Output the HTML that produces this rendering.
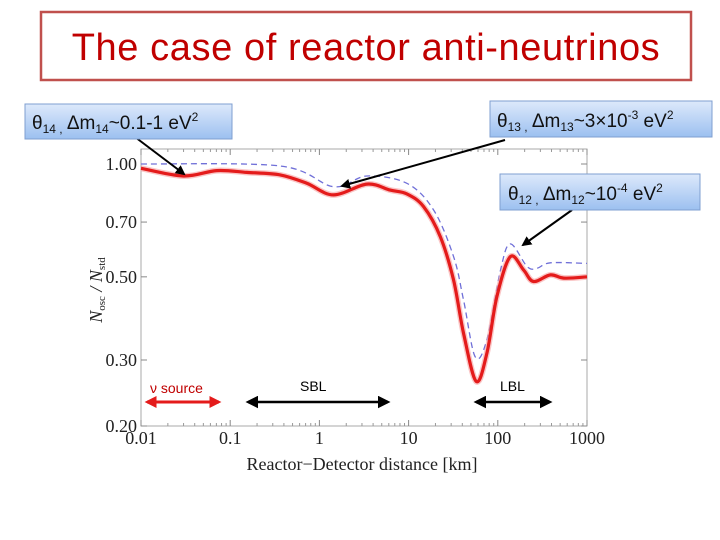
<!DOCTYPE html>
<html><head><meta charset="utf-8"><style>
body{margin:0;background:#fff}
svg{display:block;font-family:"Liberation Sans",sans-serif}
</style></head><body>
<svg width="720" height="540" viewBox="0 0 720 540">
<defs>
<linearGradient id="bg" x1="0" y1="0" x2="0" y2="1"><stop offset="0" stop-color="#dde9fb"/><stop offset="1" stop-color="#9cc0f0"/></linearGradient>
<marker id="ah" viewBox="0 0 10 10" refX="8" refY="5" markerWidth="5" markerHeight="5" orient="auto-start-reverse"><path d="M0,0L10,5L0,10z" fill="#000"/></marker>
<marker id="ahr" viewBox="0 0 10 10" refX="8" refY="5" markerWidth="4" markerHeight="4" orient="auto-start-reverse"><path d="M0,0L10,5L0,10z" fill="#e41b1b"/></marker>
</defs>
<rect x="41" y="12" width="650" height="68" fill="#fff" stroke="#c0504d" stroke-width="2.5"/>
<text x="366" y="60" text-anchor="middle" font-size="38" letter-spacing="0.6" fill="#c00000" font-family="Liberation Sans, sans-serif">The case of reactor anti-neutrinos</text>

<g id="plot">
<rect x="141" y="149" width="446" height="277" fill="#fff" stroke="#aaa" stroke-width="1"/>
<g id="ticks"></g>
<path id="dash" fill="none" stroke="#7070d8" stroke-width="1.3" stroke-dasharray="6,4"/>
<path id="solidglow" fill="none" stroke="#f7a0a0" stroke-width="6" opacity="0.6"/>
<path id="solid" fill="none" stroke="#e41b1b" stroke-width="3.2"/>
</g>
<text transform="translate(102,290) rotate(-90)" text-anchor="middle" font-size="18" font-family="Liberation Serif, serif" font-style="italic" fill="#222">N<tspan font-size="11" dy="3" font-style="normal">osc</tspan><tspan dy="-3"> / N</tspan><tspan font-size="11" dy="3" font-style="normal">std</tspan></text>
<text x="362" y="470" text-anchor="middle" font-size="18" font-family="Liberation Serif, serif" fill="#222">Reactor−Detector distance [km]</text>

<line x1="147" y1="402" x2="219" y2="402" stroke="#e41b1b" stroke-width="3" marker-start="url(#ahr)" marker-end="url(#ahr)"/>
<text x="150" y="393" font-size="14" fill="#c00000">ν source</text>
<line x1="248" y1="402" x2="388" y2="402" stroke="#000" stroke-width="2.5" marker-start="url(#ah)" marker-end="url(#ah)"/>
<text x="300" y="391" font-size="14">SBL</text>
<line x1="476" y1="402" x2="550" y2="402" stroke="#000" stroke-width="2.5" marker-start="url(#ah)" marker-end="url(#ah)"/>
<text x="500" y="391" font-size="14">LBL</text>

<line x1="135" y1="137" x2="184" y2="174" stroke="#000" stroke-width="2" marker-end="url(#ah)"/>
<line x1="505" y1="140" x2="342" y2="186" stroke="#000" stroke-width="2" marker-end="url(#ah)"/>
<line x1="572" y1="210" x2="523" y2="245" stroke="#000" stroke-width="2" marker-end="url(#ah)"/>

<g>
<rect x="25" y="104" width="207" height="35" fill="url(#bg)" stroke="#7f9fd0"/>
<text x="32" y="129" font-size="19" fill="#111">θ<tspan font-size="12" dy="4">14 ,</tspan><tspan dy="-4"> Δm</tspan><tspan font-size="12" dy="4">14</tspan><tspan dy="-4">~0.1-1 eV</tspan><tspan font-size="12" dy="-8">2</tspan></text>
</g>
<g>
<rect x="490" y="101" width="222" height="36" fill="url(#bg)" stroke="#7f9fd0"/>
<text x="497" y="127" font-size="19" fill="#111">θ<tspan font-size="12" dy="4">13 ,</tspan><tspan dy="-4"> Δm</tspan><tspan font-size="12" dy="4">13</tspan><tspan dy="-4">~3×10</tspan><tspan font-size="12" dy="-8">-3</tspan><tspan dy="8"> eV</tspan><tspan font-size="12" dy="-8">2</tspan></text>
</g>
<g>
<rect x="500" y="174" width="200" height="36" fill="url(#bg)" stroke="#7f9fd0"/>
<text x="508" y="200" font-size="19" fill="#111">θ<tspan font-size="12" dy="4">12 ,</tspan><tspan dy="-4"> Δm</tspan><tspan font-size="12" dy="4">12</tspan><tspan dy="-4">~10</tspan><tspan font-size="12" dy="-8">-4</tspan><tspan dy="8"> eV</tspan><tspan font-size="12" dy="-8">2</tspan></text>
</g>
</svg>
<script>
const solidLogX=[-2,-1.525,-1.151,-0.815,-0.44,-0.141,0.158,0.532,0.794,0.981,1.167,1.355,1.504,1.616,1.758,1.878,1.99,2.14,2.29,2.40,2.59,2.74,3.0];
const solidY=[0.974,0.929,0.96,0.95,0.935,0.888,0.827,0.884,0.852,0.832,0.77,0.64,0.49,0.354,0.263,0.313,0.443,0.566,0.521,0.486,0.506,0.496,0.50];
const dashLogX=[-2,-0.44,0.158,0.532,0.981,1.28,1.504,1.616,1.747,1.878,2.03,2.14,2.33,2.44,2.59,3.0];
const dashY=[1.0,0.988,0.87,0.929,0.888,0.754,0.566,0.434,0.306,0.34,0.521,0.612,0.532,0.527,0.545,0.543];
const xTickVals=[0.01,0.1,1,10,100,1000];
const xTickLabels=["0.01","0.1","1","10","100","1000"];
const yTickVals=[1.0,0.7,0.5,0.3,0.2];
const yTickLabels=["1.00","0.70","0.50","0.30","0.20"];
const X0=141,X1=587,Y0=426,Y1=164;
function xs(lx){return X0+(lx+2)/5*(X1-X0);}
function ysc(v){return Y1+(0-Math.log10(v))*(Y0-Y1)/Math.log10(5);}
function pathFrom(lx,vy){
  const p=lx.map((l,i)=>[xs(l),ysc(vy[i])]);
  let d="M"+p[0][0].toFixed(1)+","+p[0][1].toFixed(1);
  for(let i=0;i<p.length-1;i++){
    const a=p[Math.max(i-1,0)],b=p[i],c=p[i+1],e=p[Math.min(i+2,p.length-1)];
    const c1=[b[0]+(c[0]-a[0])/6,b[1]+(c[1]-a[1])/6],c2=[c[0]-(e[0]-b[0])/6,c[1]-(e[1]-b[1])/6];
    d+=`C${c1[0].toFixed(1)},${c1[1].toFixed(1)} ${c2[0].toFixed(1)},${c2[1].toFixed(1)} ${c[0].toFixed(1)},${c[1].toFixed(1)}`;
  }
  return d;
}
document.getElementById('solid').setAttribute('d',pathFrom(solidLogX,solidY));
document.getElementById('solidglow').setAttribute('d',pathFrom(solidLogX,solidY));
document.getElementById('dash').setAttribute('d',pathFrom(dashLogX,dashY));
const NS="http://www.w3.org/2000/svg",g=document.getElementById('ticks');
function mk(t,a){const e=document.createElementNS(NS,t);for(const k in a)e.setAttribute(k,a[k]);g.appendChild(e);return e;}
xTickVals.forEach((v,i)=>{
  const x=xs(Math.log10(v));
  mk('line',{x1:x,y1:Y0,x2:x,y2:Y0-6,stroke:'#888'});mk('line',{x1:x,y1:149,x2:x,y2:155,stroke:'#888'});
  const t=mk('text',{x:x,y:444,'text-anchor':'middle','font-size':'18','font-family':'Liberation Serif, serif',fill:'#222'});
  t.textContent=xTickLabels[i];
  
  
  if(i<xTickVals.length-1)for(let k=2;k<10;k++){const xm=xs(Math.log10(v*k));mk('line',{x1:xm,y1:Y0,x2:xm,y2:Y0-3,stroke:'#999'});mk('line',{x1:xm,y1:149,x2:xm,y2:152,stroke:'#999'});}
});
yTickVals.forEach((v,i)=>{
  const y=ysc(v);
  mk('line',{x1:X0,y1:y,x2:X0+6,y2:y,stroke:'#888'});mk('line',{x1:X1,y1:y,x2:X1-6,y2:y,stroke:'#888'});
  const t=mk('text',{x:137,y:y+6,'text-anchor':'end','font-size':'18','font-family':'Liberation Serif, serif',fill:'#222'});
  t.textContent=yTickLabels[i];
  
  
});
</script>
</body></html>
